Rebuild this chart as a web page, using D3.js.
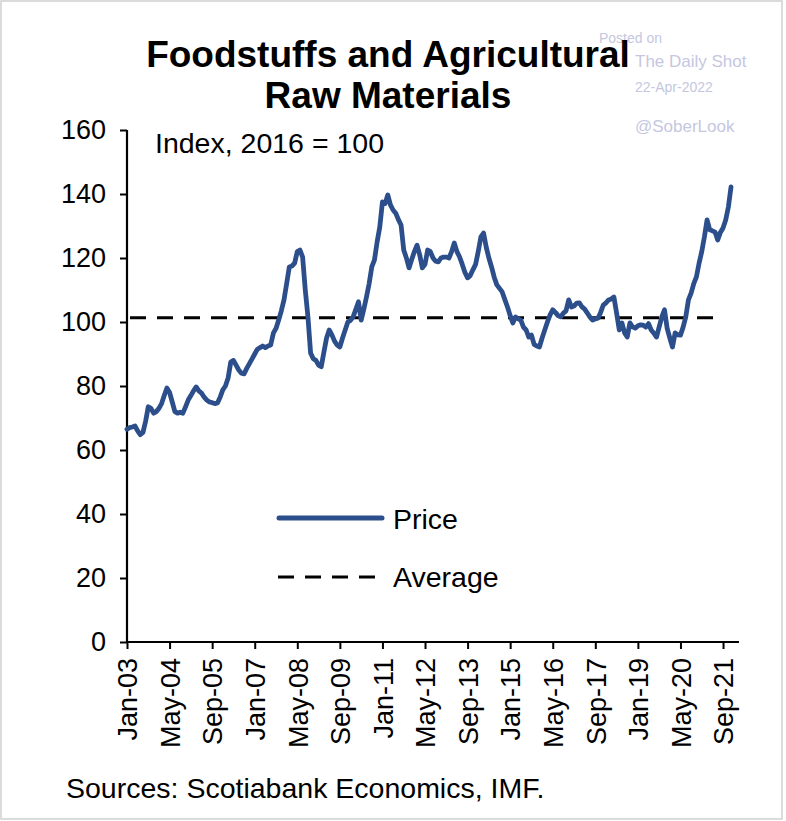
<!DOCTYPE html>
<html><head><meta charset="utf-8">
<script src="https://cdn.jsdelivr.net/npm/d3@7"></script>
<style>body{margin:0;background:#fff;}svg{display:block;font-family:"Liberation Sans",Arial,sans-serif;}</style>
</head><body><svg id="c" width="786" height="821"></svg>
<script>
// Monthly price index, Jan-2003 .. Dec-2021 (2016 = 100)
const price2003 = [66.5, 67, 67.2, 67.5, 66, 64.8, 65.5, 69, 73.5, 73, 71.5, 72];
const price2004 = [73, 74.5, 77, 79.4, 78, 75, 72, 71.5, 71.8, 71.5, 73.5, 75.6];
const price2005 = [77, 78.5, 79.7, 78.5, 77.8, 76.5, 75.6, 75, 74.8, 74.5, 74.7, 76.5];
const price2006 = [78.8, 80, 82.5, 87.5, 88, 86.5, 85, 84, 83.8, 85.5, 87, 88.5];
const price2007 = [90, 91.5, 92, 92.5, 92, 92.5, 92.8, 96.5, 98, 100.6, 103.5, 106.9];
const price2008 = [112, 117.2, 117.5, 118.4, 122, 122.5, 120.3, 110, 101.6, 90.3, 88.5, 88];
const price2009 = [86.5, 86, 90.6, 95, 97.5, 96, 94, 92.8, 92.2, 95, 97.5, 100];
const price2010 = [100.5, 101.6, 104, 106.3, 100.6, 104, 107.8, 112, 117.2, 119.4, 125, 129.7];
const price2011 = [137.5, 137, 139.7, 136.6, 135, 134, 132, 130.3, 122.5, 120, 116.9, 119.5];
const price2012 = [122, 124, 121, 116.9, 118, 122.5, 122, 120, 119, 118.8, 120, 120.3];
const price2013 = [120.3, 120, 122, 124.7, 122, 120.3, 118, 115.5, 113.8, 114.5, 116.3, 118];
const price2014 = [122, 126.6, 127.8, 123.4, 120, 117.2, 114, 111.6, 110.5, 109.4, 107, 104.7];
const price2015 = [102, 99.7, 101.6, 101, 100.6, 98.4, 97.5, 95.3, 95.9, 93, 92.5, 92.2];
const price2016 = [95, 97.5, 100, 102.2, 103.8, 103, 102, 101.6, 102.8, 103.5, 106.9, 104.7];
const price2017 = [105, 105.9, 106, 104.7, 104, 102.8, 101.5, 100.6, 101, 101.2, 103, 105.3];
const price2018 = [106, 106.9, 107.2, 107.8, 102.8, 97.5, 99.7, 96.6, 95.3, 99.7, 98.5, 98.1];
const price2019 = [98.8, 99.1, 99, 98.4, 99.5, 97.5, 96.5, 95.3, 98.5, 101.6, 103.8, 98];
const price2020 = [95, 92.2, 96.6, 96, 95.9, 98.4, 101.6, 106.9, 109, 112, 114.1, 118.4];
const price2021 = [122, 126.6, 131.9, 128.8, 128.5, 128.1, 125.6, 128, 129.4, 131.9, 135.9, 142.2];
const averageValue = 101.3;
const averageEndMonth = 222;
const totalMonths = 230;
const monthNames = ["Jan","Feb","Mar","Apr","May","Jun","Jul","Aug","Sep","Oct","Nov","Dec"];
const yTicks = [0, 20, 40, 60, 80, 100, 120, 140, 160];
const xTickStep = 16;
const titleLines = ["Foodstuffs and Agricultural", "Raw Materials"];
const unitLabel = "Index, 2016 = 100";
const sourceText = "Sources: Scotiabank Economics, IMF.";
const legendLabels = ["Price", "Average"];
const watermark = ["Posted on", "The Daily Shot", "22-Apr-2022", "@SoberLook"];

const price = [].concat(price2003, price2004, price2005, price2006, price2007, price2008, price2009,
  price2010, price2011, price2012, price2013, price2014, price2015, price2016, price2017,
  price2018, price2019, price2020, price2021);
const data = price.map((v, i) => ({i, v}));
const label = i => monthNames[i % 12] + "-" + String((3 + Math.floor(i / 12)) % 100).padStart(2, "0");

const svg = d3.select("#c");
const pL = 127, pR = 739, pT = 130, pB = 642;
const x = d3.scaleLinear().domain([0, totalMonths]).range([pL, pR]);
const y = d3.scaleLinear().domain([0, 160]).range([pB, pT]);
const lineColor = "#2c4f8c";
const fs = 27;
const fsText = 28.5;

svg.append("rect").attr("x", 1).attr("y", 1).attr("width", 781).attr("height", 818)
  .attr("fill", "none").attr("stroke", "#d0d0d0").attr("stroke-width", 1.5);

// Watermark (sits partly behind the title, as in the original)
const wm = svg.append("g").attr("fill", "#c5c7e0");
wm.append("text").attr("x", 599).attr("y", 43).attr("font-size", 14).text(watermark[0]);
wm.append("text").attr("x", 635).attr("y", 67).attr("font-size", 17).text(watermark[1]);
wm.append("text").attr("x", 635).attr("y", 92).attr("font-size", 14).text(watermark[2]);
wm.append("text").attr("x", 635).attr("y", 132).attr("font-size", 17).text(watermark[3]);

// Title
svg.append("g").selectAll("text").data(titleLines).join("text")
  .attr("x", 388).attr("y", (d, k) => 67 + k * 41)
  .attr("text-anchor", "middle").attr("font-weight", "bold").attr("font-size", 37)
  .attr("fill", "#000").text(d => d);

// Y axis
const yAxis = svg.append("g").attr("transform", `translate(${pL},0)`)
  .call(d3.axisLeft(y).tickValues(yTicks).tickSize(7).tickPadding(14));
yAxis.select(".domain").attr("stroke", "#000").attr("stroke-width", 2.2).attr("d", `M0,${pT}V${pB}`);
yAxis.selectAll(".tick line").attr("stroke", "#000").attr("stroke-width", 2);
yAxis.selectAll(".tick text").attr("font-size", fs).attr("fill", "#000")
  .attr("font-family", "Liberation Sans, Arial, sans-serif");

// X axis
const xTicks = d3.range(0, 225, xTickStep);
const xAxis = svg.append("g").attr("transform", `translate(0,${pB})`)
  .call(d3.axisBottom(x).tickValues(xTicks).tickFormat(label).tickSize(7).tickPadding(10));
xAxis.select(".domain").attr("stroke", "#000").attr("stroke-width", 2.2).attr("d", `M${pL},0H${pR}`);
xAxis.selectAll(".tick line").attr("stroke", "#000").attr("stroke-width", 2);
xAxis.selectAll(".tick text").attr("font-size", fs).attr("fill", "#000")
  .attr("font-family", "Liberation Sans, Arial, sans-serif")
  .attr("transform", "rotate(-90)").attr("text-anchor", "end")
  .attr("x", -16).attr("y", 0).attr("dy", "0.36em");

// Average dashed line
svg.append("line")
  .attr("x1", x(0) + 3).attr("x2", x(averageEndMonth))
  .attr("y1", y(averageValue)).attr("y2", y(averageValue))
  .attr("stroke", "#000").attr("stroke-width", 3).attr("stroke-dasharray", "16,11");

// Price line
svg.append("path").datum(data)
  .attr("fill", "none").attr("stroke", lineColor).attr("stroke-width", 4.8)
  .attr("stroke-linejoin", "round").attr("stroke-linecap", "round")
  .attr("d", d3.line().x(d => x(d.i)).y(d => y(d.v)));

// Unit label
svg.append("text").attr("x", 155).attr("y", 153).attr("font-size", fsText).attr("fill", "#000").text(unitLabel);

// Legend
const lg = svg.append("g");
lg.append("line").attr("x1", 279).attr("x2", 382).attr("y1", 518).attr("y2", 518)
  .attr("stroke", lineColor).attr("stroke-width", 5).attr("stroke-linecap", "round");
lg.append("text").attr("x", 393).attr("y", 529).attr("font-size", fsText).text(legendLabels[0]);
lg.append("line").attr("x1", 278).attr("x2", 380).attr("y1", 577).attr("y2", 577)
  .attr("stroke", "#000").attr("stroke-width", 3).attr("stroke-dasharray", "16,11");
lg.append("text").attr("x", 393).attr("y", 587).attr("font-size", fsText).text(legendLabels[1]);

// Source
svg.append("text").attr("x", 66).attr("y", 798).attr("font-size", fsText).attr("fill", "#000").text(sourceText);
</script></body></html>
